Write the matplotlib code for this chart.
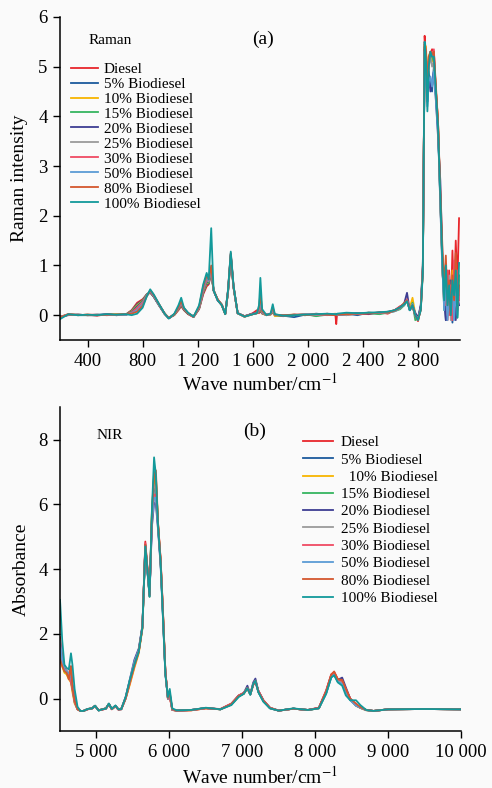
#!/usr/bin/env python3
"""Raman and NIR spectra of diesel / biodiesel blends, two stacked panels."""

import matplotlib.pyplot as plt
from matplotlib.ticker import FuncFormatter

plt.rcParams["font.family"] = ["Liberation Serif", "DejaVu Serif"]
plt.rcParams["mathtext.fontset"] = "stix"

LABELS = [
    "Diesel", "5% Biodiesel", "10% Biodiesel", "15% Biodiesel", "20% Biodiesel",
    "25% Biodiesel", "30% Biodiesel", "50% Biodiesel", "80% Biodiesel", "100% Biodiesel",
]
NIR_LABELS = [
    "Diesel", "5% Biodiesel", "  10% Biodiesel", "15% Biodiesel", "20% Biodiesel",
    "25% Biodiesel", "30% Biodiesel", "50% Biodiesel", "80% Biodiesel", "100% Biodiesel",
]
COLORS = [
    "#e8262b", "#1c5a9c", "#f7b500", "#35b560", "#3d3d92",
    "#9a9a9a", "#f04a63", "#5b9bd5", "#d4572e", "#12999a",
]

RAMAN_TICKS = [400, 800, 1200, 1600, 2000, 2400, 2800]
NIR_TICKS = [5000, 6000, 7000, 8000, 9000, 10000]

# Raman shift grid (cm-1), denser around the bands
RAMAN_WN = [
    200, 260, 330, 400, 470, 540, 610, 680,
    720, 760, 800, 830, 855, 880, 920, 960, 990,
    1030, 1060, 1080, 1100, 1130, 1170, 1210, 1240,
    1265, 1280, 1298, 1315, 1345, 1375, 1400, 1420, 1440, 1460, 1490,
    1540, 1600, 1630, 1645, 1655, 1668, 1700, 1730, 1745, 1760, 1820,
    1900, 1980, 2060, 2140, 2200, 2206, 2212, 2280, 2360, 2440, 2520, 2580,
    2630, 2670, 2700, 2720, 2740, 2760, 2780, 2800, 2820, 2835,
    2848, 2858, 2868, 2878, 2890, 2902, 2915, 2928, 2945, 2962, 2978,
    2990, 3002, 3014, 3026, 3038, 3050, 3062, 3074, 3086, 3098,
]

RAMAN_DIESEL = [
    -0.04, 0.02, 0.0, 0.01, -0.01, 0.02, 0.0, 0.02,
    0.1, 0.25, 0.32, 0.42, 0.45, 0.38, 0.2, 0.03, -0.06,
    0.0, 0.1, 0.18, 0.1, 0.02, -0.04, 0.12, 0.42,
    0.58, 0.62, 0.85, 0.5, 0.3, 0.2, 0.02, 0.45, 1.15, 0.55, 0.04,
    -0.03, 0.04, 0.1, 0.04, 0.08, 0.03, 0.0, 0.02, 0.05, 0.0, -0.02,
    0.0, 0.02, -0.01, 0.03, 0.0, -0.18, 0.02, 0.0, 0.04, 0.02, 0.06, 0.03,
    0.1, 0.18, 0.22, 0.3, 0.12, 0.2, -0.02, -0.12, 0.15, 0.9,
    5.62, 5.2, 4.5, 5.1, 5.25, 5.35, 5.3, 4.6, 3.9, 2.3, 0.9,
    0.2, 0.8, -0.1, 0.9, 0.1, 1.3, 0.3, 1.5, 0.6, 1.95,
]
RAMAN_B5 = [
    -0.03, 0.01, 0.01, 0.0, 0.0, 0.02, 0.01, 0.01,
    0.09, 0.22, 0.3, 0.42, 0.46, 0.37, 0.19, 0.02, -0.06,
    0.01, 0.12, 0.2, 0.11, 0.03, -0.03, 0.13, 0.45,
    0.62, 0.64, 0.88, 0.5, 0.3, 0.2, 0.02, 0.46, 1.18, 0.56, 0.04,
    -0.02, 0.03, 0.05, 0.06, 0.1, 0.04, 0.01, 0.02, 0.06, 0.01, -0.01,
    -0.04, 0.01, 0.0, 0.02, 0.01, 0.0, 0.01, 0.03, 0.0, 0.05, 0.03, 0.07,
    0.08, 0.15, 0.2, 0.32, 0.1, 0.18, 0.0, -0.08, 0.2, 1.0,
    5.4, 5.1, 4.3, 4.9, 4.6, 4.5, 5.0, 4.5, 3.8, 2.2, 0.8,
    0.5, -0.1, 0.6, 0.1, 0.4, -0.15, 0.8, 0.2, 0.5, 0.4,
]
RAMAN_B10 = [
    -0.04, 0.02, 0.0, 0.01, 0.0, 0.01, 0.02, 0.01,
    0.08, 0.2, 0.29, 0.41, 0.46, 0.38, 0.2, 0.03, -0.05,
    0.01, 0.12, 0.21, 0.12, 0.03, -0.03, 0.14, 0.47,
    0.64, 0.66, 0.9, 0.5, 0.31, 0.2, 0.02, 0.47, 1.2, 0.56, 0.04,
    -0.03, 0.02, 0.04, 0.07, 0.12, 0.04, 0.0, 0.01, 0.08, -0.02, 0.0,
    0.01, 0.0, 0.02, 0.01, 0.03, 0.02, 0.0, 0.04, 0.02, 0.05, 0.04, 0.06,
    0.1, 0.15, 0.25, 0.28, 0.14, 0.35, 0.02, -0.1, 0.12, 0.95,
    5.45, 5.4, 4.6, 5.2, 5.3, 5.1, 5.2, 4.6, 3.9, 2.4, 0.9,
    0.3, 0.6, 0.1, 0.7, 0.2, 0.9, 0.0, 1.0, 0.3, 0.7,
]
RAMAN_B15 = [
    -0.05, 0.01, 0.0, 0.0, 0.01, 0.0, 0.01, 0.02,
    0.07, 0.18, 0.28, 0.41, 0.47, 0.38, 0.2, 0.03, -0.06,
    0.01, 0.13, 0.22, 0.12, 0.03, -0.03, 0.14, 0.48,
    0.66, 0.66, 0.9, 0.5, 0.31, 0.21, 0.03, 0.47, 1.2, 0.57, 0.04,
    -0.03, 0.02, 0.04, 0.08, 0.15, 0.04, 0.0, 0.02, 0.08, 0.0, -0.02,
    0.0, 0.02, -0.02, 0.01, 0.02, 0.0, 0.01, 0.02, 0.03, 0.04, 0.02, 0.05,
    0.08, 0.12, 0.2, 0.3, 0.1, 0.25, -0.1, -0.06, 0.15, 0.9,
    5.4, 5.2, 4.4, 5.1, 5.25, 5.2, 5.1, 4.5, 3.8, 2.3, 1.0,
    0.1, 0.9, 0.2, 0.5, 0.3, 0.6, 0.1, 0.4, -0.05, 0.8,
]
RAMAN_B20 = [
    -0.04, 0.0, 0.01, 0.0, 0.0, 0.02, 0.0, 0.01,
    0.06, 0.17, 0.27, 0.4, 0.47, 0.38, 0.2, 0.03, -0.06,
    0.02, 0.13, 0.22, 0.13, 0.03, -0.03, 0.15, 0.5,
    0.68, 0.68, 0.92, 0.5, 0.3, 0.21, 0.03, 0.48, 1.22, 0.57, 0.04,
    -0.02, 0.03, 0.05, 0.08, 0.18, 0.05, 0.01, 0.02, 0.1, 0.01, -0.01,
    0.01, 0.0, 0.03, 0.01, 0.0, 0.02, 0.0, 0.02, 0.04, 0.03, 0.05, 0.06,
    0.1, 0.16, 0.24, 0.45, 0.1, 0.2, 0.05, -0.05, 0.2, 1.0,
    5.35, 5.0, 4.3, 4.8, 4.5, 4.7, 4.9, 4.4, 3.6, 2.7, 1.1,
    0.3, -0.1, 0.5, 0.2, 0.7, 0.0, 0.3, -0.1, 0.4, 0.2,
]
RAMAN_B25 = [
    -0.04, 0.01, 0.01, 0.0, 0.01, 0.01, 0.0, 0.01,
    0.05, 0.15, 0.26, 0.4, 0.48, 0.39, 0.2, 0.03, -0.06,
    0.02, 0.14, 0.23, 0.13, 0.04, -0.03, 0.15, 0.5,
    0.7, 0.68, 0.9, 0.5, 0.31, 0.21, 0.03, 0.48, 1.22, 0.58, 0.04,
    -0.03, 0.02, 0.04, 0.09, 0.2, 0.05, 0.0, 0.02, 0.1, 0.0, 0.0,
    0.0, 0.02, 0.0, 0.02, 0.01, 0.01, 0.02, 0.0, 0.03, 0.05, 0.04, 0.05,
    0.09, 0.14, 0.22, 0.3, 0.12, 0.22, 0.0, -0.08, 0.1, 0.95,
    5.4, 5.2, 4.5, 5.0, 5.2, 5.0, 5.1, 4.5, 3.8, 2.3, 0.95,
    0.2, 0.6, 0.0, 0.8, -0.1, 0.5, 0.2, 0.7, 0.1, 0.5,
]
RAMAN_B30 = [
    -0.04, 0.02, 0.0, 0.01, 0.01, 0.0, 0.01, 0.02,
    0.05, 0.14, 0.25, 0.39, 0.48, 0.39, 0.21, 0.03, -0.06,
    0.02, 0.14, 0.24, 0.13, 0.04, -0.03, 0.15, 0.52,
    0.72, 0.7, 0.95, 0.5, 0.31, 0.21, 0.03, 0.49, 1.23, 0.58, 0.04,
    -0.03, 0.03, 0.04, 0.1, 0.22, 0.05, 0.01, 0.02, 0.11, 0.01, -0.01,
    0.01, 0.01, 0.02, 0.0, 0.02, 0.01, 0.01, 0.03, 0.02, 0.04, 0.05, 0.06,
    0.1, 0.17, 0.22, 0.32, 0.12, 0.18, -0.02, -0.1, 0.12, 0.9,
    5.5, 5.3, 4.6, 5.1, 5.3, 5.2, 5.35, 4.6, 3.9, 2.4, 1.0,
    0.4, 0.2, 0.9, 0.0, 0.6, -0.1, 1.1, 0.2, 0.9, 0.3,
]
RAMAN_B50 = [
    -0.04, 0.01, 0.0, 0.0, 0.01, 0.01, 0.0, 0.01,
    0.04, 0.1, 0.22, 0.39, 0.49, 0.4, 0.21, 0.03, -0.06,
    0.02, 0.15, 0.26, 0.14, 0.04, -0.03, 0.16, 0.55,
    0.76, 0.7, 0.95, 0.5, 0.31, 0.21, 0.03, 0.5, 1.24, 0.58, 0.04,
    -0.02, 0.02, 0.04, 0.12, 0.3, 0.06, 0.0, 0.02, 0.13, 0.01, 0.0,
    0.0, 0.01, 0.02, 0.01, 0.02, 0.02, 0.0, 0.02, 0.03, 0.05, 0.04, 0.05,
    0.08, 0.14, 0.22, 0.3, 0.1, 0.22, 0.0, -0.08, 0.15, 0.95,
    5.3, 4.9, 4.2, 4.7, 4.8, 4.6, 4.9, 4.4, 3.7, 2.3, 0.9,
    0.1, 0.7, -0.1, 0.4, 0.1, 0.6, -0.1, 0.5, 0.0, 0.6,
]
RAMAN_B80 = [
    -0.04, 0.01, 0.01, 0.0, 0.0, 0.01, 0.01, 0.02,
    0.03, 0.07, 0.19, 0.38, 0.5, 0.41, 0.22, 0.03, -0.06,
    0.02, 0.16, 0.28, 0.14, 0.04, -0.03, 0.17, 0.58,
    0.8, 0.72, 1.0, 0.5, 0.32, 0.21, 0.03, 0.5, 1.25, 0.59, 0.04,
    -0.02, 0.02, 0.04, 0.15, 0.45, 0.08, 0.0, 0.03, 0.16, 0.01, 0.0,
    0.01, 0.0, 0.02, 0.01, 0.0, 0.02, 0.01, 0.02, 0.03, 0.04, 0.05, 0.05,
    0.09, 0.15, 0.24, 0.3, 0.12, 0.2, 0.0, -0.09, 0.12, 0.95,
    5.45, 5.3, 4.5, 5.2, 5.3, 5.25, 5.3, 4.7, 3.9, 2.5, 1.3,
    0.6, 1.2, 0.2, 0.7, 0.0, 0.8, 0.3, 1.25, 0.1, 0.6,
]
RAMAN_B100 = [
    -0.08, 0.02, 0.0, 0.01, 0.0, 0.02, 0.01, 0.02,
    0.0, 0.03, 0.15, 0.38, 0.52, 0.42, 0.22, 0.03, -0.07,
    0.03, 0.2, 0.35, 0.15, 0.05, -0.03, 0.2, 0.62,
    0.85, 0.72, 1.75, 0.5, 0.3, 0.2, 0.02, 0.5, 1.28, 0.6, 0.04,
    -0.03, 0.02, 0.04, 0.2, 0.75, 0.12, 0.0, 0.04, 0.22, 0.02, -0.01,
    0.0, 0.01, 0.02, 0.03, 0.02, 0.01, 0.03, 0.05, 0.04, 0.05, 0.06, 0.07,
    0.1, 0.16, 0.22, 0.28, 0.1, 0.2, 0.0, -0.1, 0.1, 0.85,
    5.5, 5.1, 4.1, 5.0, 5.3, 5.2, 5.2, 4.6, 3.8, 2.4, 1.0,
    0.3, 1.0, 0.2, 0.6, 0.0, 0.7, 0.4, 0.9, -0.05, 1.05,
]

# NIR wavenumber grid (cm-1)
NIR_WN = [
    4500, 4530, 4560, 4590, 4620, 4650, 4670, 4700, 4740, 4780,
    4820, 4880, 4940, 4980, 5030, 5080, 5130, 5170, 5210, 5260, 5300, 5340,
    5400, 5460, 5520, 5580, 5630, 5670, 5700, 5728, 5760, 5790, 5815, 5845,
    5880, 5910, 5945, 5980, 6005, 6040, 6100,
    6300, 6500, 6700, 6850, 6950, 7020, 7070, 7110, 7150, 7180, 7220, 7290,
    7380, 7500, 7700, 7900,
    8050, 8150, 8220, 8260, 8310, 8370, 8420, 8480, 8560, 8620, 8700, 8800,
    9000, 9500, 10000,
]

NIR_DIESEL = [
    1.9, 1.3, 0.95, 0.85, 0.75, 1.0, 0.45, 0.0, -0.3, -0.38,
    -0.38, -0.33, -0.3, -0.24, -0.36, -0.34, -0.31, -0.18, -0.33, -0.24, -0.34, -0.33,
    0.0, 0.5, 1.0, 1.45, 2.2, 4.85, 4.0, 3.2, 5.6, 6.8, 6.7, 5.4,
    4.3, 2.8, 0.85, 0.0, 0.05, -0.35, -0.37,
    -0.36, -0.3, -0.32, -0.15, 0.1, 0.18, 0.3, 0.15, 0.42, 0.5, 0.25, -0.05,
    -0.28, -0.37, -0.31, -0.35,
    -0.28, 0.25, 0.75, 0.82, 0.6, 0.55, 0.3, 0.0, -0.2, -0.28, -0.35, -0.38,
    -0.33, -0.32, -0.33,
]
NIR_B5 = [
    1.6, 1.2, 0.9, 0.8, 0.7, 0.6, 0.4, -0.1, -0.32, -0.38,
    -0.38, -0.32, -0.3, -0.22, -0.36, -0.33, -0.3, -0.16, -0.32, -0.22, -0.33, -0.32,
    0.02, 0.55, 1.05, 1.5, 2.25, 4.75, 3.9, 3.2, 5.5, 6.5, 6.4, 5.3,
    4.2, 2.7, 0.8, 0.0, 0.1, -0.34, -0.37,
    -0.35, -0.29, -0.33, -0.17, 0.08, 0.16, 0.34, 0.14, 0.44, 0.56, 0.22, -0.07,
    -0.29, -0.37, -0.31, -0.35,
    -0.29, 0.2, 0.7, 0.78, 0.56, 0.55, 0.28, -0.02, -0.22, -0.28, -0.35, -0.38,
    -0.33, -0.32, -0.33,
]
NIR_B10 = [
    1.3, 1.0, 0.8, 0.75, 0.6, 0.5, 0.2, -0.15, -0.33, -0.38,
    -0.38, -0.32, -0.3, -0.23, -0.36, -0.33, -0.3, -0.17, -0.32, -0.23, -0.33, -0.32,
    0.0, 0.45, 0.95, 1.4, 2.15, 4.7, 3.95, 3.15, 5.7, 6.9, 6.8, 5.35,
    4.25, 2.75, 0.82, 0.0, 0.08, -0.35, -0.37,
    -0.36, -0.3, -0.33, -0.18, 0.07, 0.15, 0.32, 0.13, 0.43, 0.54, 0.22, -0.07,
    -0.29, -0.37, -0.31, -0.35,
    -0.3, 0.18, 0.68, 0.76, 0.54, 0.5, 0.25, -0.03, -0.22, -0.29, -0.36, -0.38,
    -0.33, -0.32, -0.33,
]
NIR_B15 = [
    1.5, 1.1, 0.85, 0.8, 0.65, 0.55, 0.3, -0.1, -0.33, -0.38,
    -0.38, -0.32, -0.3, -0.22, -0.36, -0.33, -0.3, -0.16, -0.32, -0.22, -0.33, -0.32,
    0.02, 0.55, 1.05, 1.48, 2.2, 4.72, 3.95, 3.15, 5.75, 7.0, 6.85, 5.35,
    4.2, 2.7, 0.8, 0.02, 0.15, -0.33, -0.37,
    -0.35, -0.29, -0.33, -0.18, 0.07, 0.15, 0.33, 0.13, 0.44, 0.55, 0.21, -0.08,
    -0.3, -0.37, -0.31, -0.35,
    -0.3, 0.17, 0.67, 0.75, 0.53, 0.45, 0.2, -0.04, -0.2, -0.26, -0.35, -0.38,
    -0.33, -0.32, -0.33,
]
NIR_B20 = [
    1.7, 1.2, 0.9, 0.85, 0.75, 0.6, 0.35, -0.05, -0.32, -0.38,
    -0.38, -0.32, -0.3, -0.22, -0.36, -0.33, -0.3, -0.16, -0.32, -0.22, -0.33, -0.32,
    0.05, 0.62, 1.2, 1.55, 2.25, 4.65, 3.9, 3.2, 5.3, 6.05, 6.0, 5.2,
    4.1, 2.6, 0.78, 0.0, 0.12, -0.34, -0.37,
    -0.35, -0.29, -0.33, -0.17, 0.09, 0.17, 0.4, 0.14, 0.5, 0.62, 0.24, -0.06,
    -0.29, -0.37, -0.31, -0.35,
    -0.29, 0.2, 0.7, 0.78, 0.58, 0.65, 0.35, 0.0, -0.2, -0.28, -0.35, -0.38,
    -0.33, -0.32, -0.33,
]
NIR_B25 = [
    1.6, 1.15, 0.88, 0.8, 0.7, 0.55, 0.3, -0.1, -0.33, -0.38,
    -0.38, -0.32, -0.3, -0.22, -0.36, -0.33, -0.3, -0.16, -0.32, -0.22, -0.33, -0.32,
    0.03, 0.58, 1.1, 1.5, 2.2, 4.7, 3.95, 3.2, 5.6, 6.6, 6.5, 5.3,
    4.2, 2.7, 0.8, 0.0, 0.1, -0.34, -0.37,
    -0.35, -0.29, -0.33, -0.18, 0.08, 0.16, 0.34, 0.13, 0.45, 0.56, 0.22, -0.07,
    -0.29, -0.37, -0.31, -0.35,
    -0.3, 0.18, 0.68, 0.76, 0.55, 0.5, 0.25, -0.03, -0.21, -0.28, -0.35, -0.38,
    -0.33, -0.32, -0.33,
]
NIR_B30 = [
    1.8, 1.25, 0.9, 0.85, 0.7, 0.5, 0.3, -0.1, -0.33, -0.38,
    -0.38, -0.33, -0.3, -0.23, -0.36, -0.34, -0.31, -0.17, -0.33, -0.23, -0.34, -0.33,
    0.0, 0.5, 1.0, 1.45, 2.2, 4.8, 4.0, 3.2, 5.5, 6.3, 6.3, 5.35,
    4.3, 2.8, 0.85, 0.0, 0.05, -0.35, -0.37,
    -0.36, -0.3, -0.32, -0.16, 0.09, 0.17, 0.31, 0.14, 0.43, 0.52, 0.24, -0.05,
    -0.28, -0.37, -0.31, -0.35,
    -0.28, 0.24, 0.74, 0.8, 0.6, 0.55, 0.3, 0.0, -0.2, -0.28, -0.35, -0.38,
    -0.33, -0.32, -0.33,
]
NIR_B50 = [
    1.75, 1.2, 0.92, 0.85, 0.78, 0.7, 0.4, 0.0, -0.3, -0.38,
    -0.38, -0.32, -0.3, -0.22, -0.36, -0.33, -0.3, -0.16, -0.32, -0.22, -0.33, -0.32,
    0.03, 0.6, 1.15, 1.5, 2.2, 4.7, 3.9, 3.15, 5.4, 6.2, 6.2, 5.25,
    4.15, 2.65, 0.78, 0.0, 0.15, -0.34, -0.37,
    -0.35, -0.29, -0.33, -0.18, 0.07, 0.15, 0.33, 0.12, 0.44, 0.55, 0.2, -0.08,
    -0.3, -0.37, -0.31, -0.35,
    -0.3, 0.15, 0.66, 0.74, 0.52, 0.45, 0.2, -0.05, -0.22, -0.28, -0.36, -0.38,
    -0.33, -0.32, -0.33,
]
NIR_B80 = [
    1.2, 1.0, 0.85, 0.8, 0.6, 1.0, 0.35, -0.05, -0.32, -0.38,
    -0.38, -0.32, -0.3, -0.22, -0.36, -0.33, -0.3, -0.16, -0.32, -0.22, -0.33, -0.32,
    0.02, 0.55, 1.05, 1.45, 2.2, 4.75, 4.0, 3.2, 5.7, 6.9, 7.05, 5.4,
    4.25, 2.75, 0.82, 0.02, 0.2, -0.33, -0.37,
    -0.35, -0.29, -0.33, -0.17, 0.08, 0.16, 0.33, 0.13, 0.44, 0.55, 0.22, -0.07,
    -0.29, -0.37, -0.31, -0.35,
    -0.29, 0.22, 0.74, 0.84, 0.6, 0.58, 0.3, 0.0, -0.15, -0.26, -0.35, -0.38,
    -0.33, -0.32, -0.33,
]
NIR_B100 = [
    3.05, 1.8, 1.05, 0.95, 0.9, 1.4, 1.05, 0.3, -0.25, -0.38,
    -0.38, -0.32, -0.3, -0.22, -0.37, -0.33, -0.31, -0.15, -0.32, -0.21, -0.33, -0.33,
    0.05, 0.6, 1.05, 1.45, 2.2, 4.7, 3.95, 3.15, 5.8, 7.45, 6.9, 5.3,
    4.2, 2.6, 0.75, 0.05, 0.3, -0.3, -0.36,
    -0.35, -0.28, -0.33, -0.2, 0.05, 0.15, 0.32, 0.12, 0.45, 0.55, 0.2, -0.1,
    -0.3, -0.37, -0.3, -0.35,
    -0.3, 0.15, 0.65, 0.72, 0.5, 0.4, 0.1, -0.05, -0.05, -0.2, -0.35, -0.38,
    -0.33, -0.32, -0.33,
]

RAMAN_SERIES = [
    RAMAN_DIESEL, RAMAN_B5, RAMAN_B10, RAMAN_B15, RAMAN_B20,
    RAMAN_B25, RAMAN_B30, RAMAN_B50, RAMAN_B80, RAMAN_B100,
]
NIR_SERIES = [
    NIR_DIESEL, NIR_B5, NIR_B10, NIR_B15, NIR_B20,
    NIR_B25, NIR_B30, NIR_B50, NIR_B80, NIR_B100,
]


def spaced_thousands(value, _pos):
    return f"{int(value):,}".replace(",", " ")


def style_axis(axis):
    axis.set_facecolor("none")
    axis.spines[["top", "right"]].set_visible(False)
    for side in ("left", "bottom"):
        axis.spines[side].set_linewidth(1.1)
    axis.tick_params(direction="out", length=5, width=1.0, pad=4, labelsize=13.5)
    axis.xaxis.set_major_formatter(FuncFormatter(spaced_thousands))


def draw_panel(axis, wavenumbers, series, labels):
    for values, color, label in zip(series, COLORS, labels):
        axis.plot(wavenumbers, values, color=color, linewidth=1.3, label=label)


def main():
    fig = plt.figure(figsize=(4.92, 7.88), dpi=100, facecolor="#fafafa")

    ax_raman = fig.add_axes([0.122, 0.5685, 0.813, 0.41])
    draw_panel(ax_raman, RAMAN_WN, RAMAN_SERIES, LABELS)
    style_axis(ax_raman)
    ax_raman.set(xlim=(200, 3105), ylim=(-0.5, 6), xticks=RAMAN_TICKS,
                 yticks=range(0, 7))
    ax_raman.set_ylabel("Raman intensity", fontsize=14)
    ax_raman.set_xlabel("Wave number/cm$^{-1}$", fontsize=14)
    ax_raman.yaxis.set_label_coords(-0.08, 0.5)
    ax_raman.xaxis.set_label_coords(0.5, -0.1)
    ax_raman.text(0.072, 0.927, "Raman", transform=ax_raman.transAxes,
                  fontsize=11, va="center")
    ax_raman.text(0.48, 0.932, "(a)", transform=ax_raman.transAxes,
                  fontsize=14, va="center")
    ax_raman.legend(loc="upper left", bbox_to_anchor=(0.027, 0.86), frameon=False,
                    fontsize=11, handlelength=1.8, handletextpad=0.35,
                    labelspacing=0.085, borderpad=0, borderaxespad=0)

    ax_nir = fig.add_axes([0.122, 0.0723, 0.815, 0.411])
    draw_panel(ax_nir, NIR_WN, NIR_SERIES, NIR_LABELS)
    style_axis(ax_nir)
    ax_nir.set(xlim=(4500, 10000), ylim=(-1, 9), xticks=NIR_TICKS,
               yticks=range(0, 9, 2))
    ax_nir.set_ylabel("Absorbance", fontsize=14)
    ax_nir.set_xlabel("Wave number/cm$^{-1}$", fontsize=14)
    ax_nir.yaxis.set_label_coords(-0.075, 0.5)
    ax_nir.xaxis.set_label_coords(0.5, -0.108)
    ax_nir.text(0.09, 0.913, "NIR", transform=ax_nir.transAxes,
                fontsize=11, va="center")
    ax_nir.text(0.456, 0.925, "(b)", transform=ax_nir.transAxes,
                fontsize=14, va="center")
    ax_nir.legend(loc="upper left", bbox_to_anchor=(0.605, 0.912), frameon=False,
                  fontsize=11, handlelength=2.0, handletextpad=0.5,
                  labelspacing=0.235, borderpad=0, borderaxespad=0)

    fig.savefig("out.png", dpi=100, facecolor=fig.get_facecolor())
    plt.close(fig)


if __name__ == "__main__":
    main()
